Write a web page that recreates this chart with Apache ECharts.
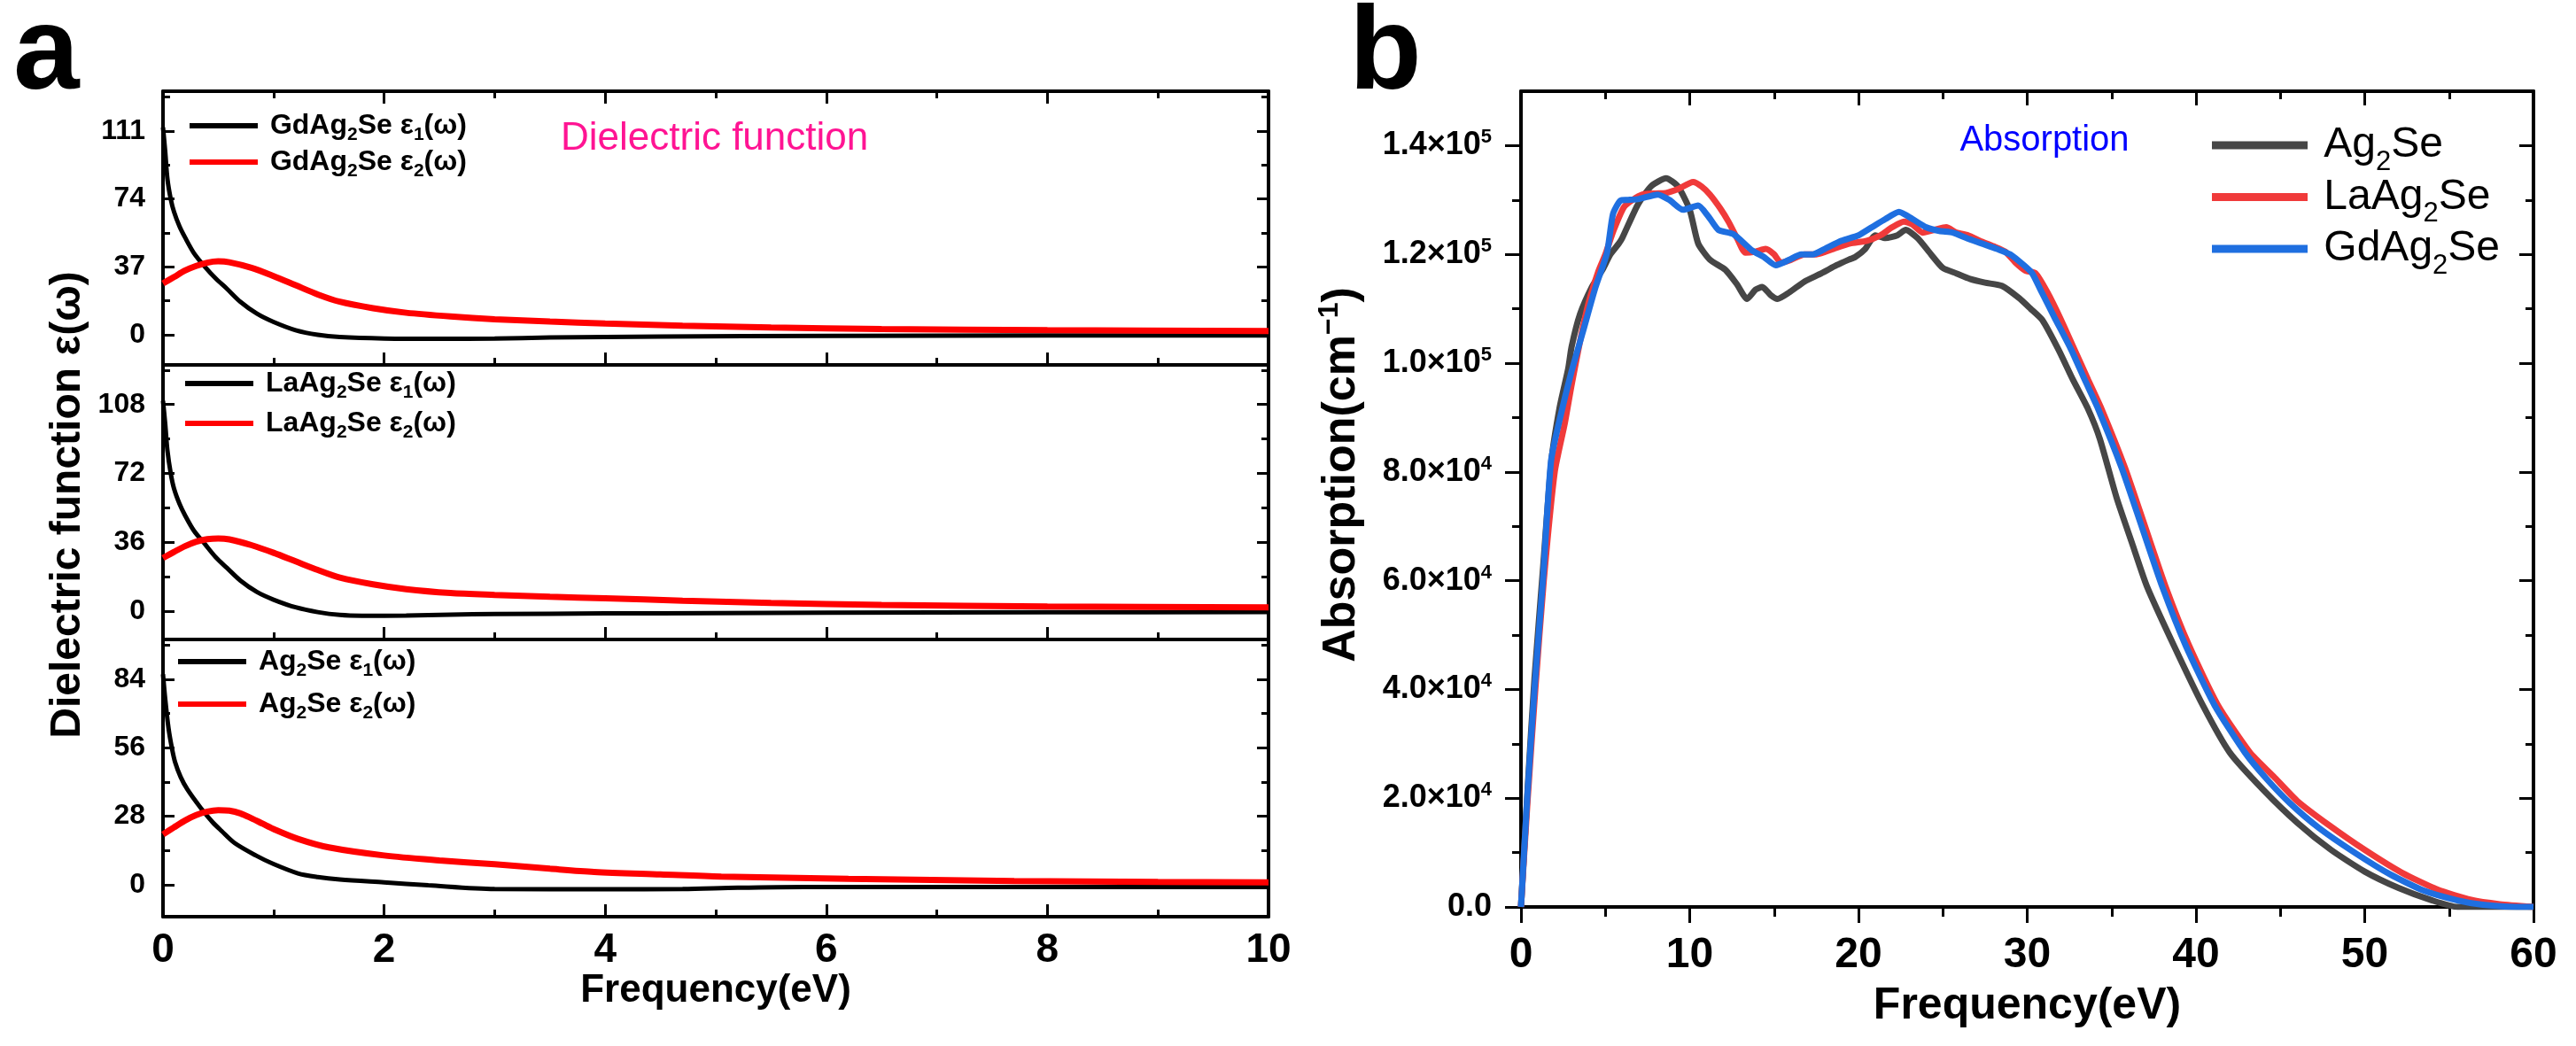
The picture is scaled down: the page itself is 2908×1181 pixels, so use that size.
<!DOCTYPE html>
<html><head><meta charset="utf-8">
<script src="https://cdn.jsdelivr.net/npm/echarts@6/dist/echarts.min.js"></script>
<style>html,body{margin:0;padding:0;background:#fff}#c{width:2908px;height:1181px}</style>
</head><body><div id="c"></div>
<script>
// ================= DATA =================
// Panel a: energy (eV) vs dielectric function
const gdEps1 = [[0,113],[0.02,100],[0.04,85],[0.07,74],[0.1,67],[0.15,59],[0.2,53],[0.28,44.5],[0.38,37],[0.48,30.5],[0.58,25],[0.7,18],[0.85,11.5],[1.0,7],[1.2,2.5],[1.4,0],[1.6,-1.2],[2.0,-2],[2.5,-2.2],[3.0,-2],[3.5,-1.5],[4.5,-1],[6,-0.6],[8,-0.4],[10,-0.3]];
const gdEps2 = [[0,28],[0.1,31.5],[0.2,35],[0.3,37.5],[0.4,39.3],[0.5,40],[0.6,39.5],[0.8,36.5],[1.0,32],[1.2,27],[1.4,22],[1.6,18],[1.9,14.5],[2.2,12],[2.6,10],[3.0,8.5],[3.5,7.2],[4.0,6.2],[4.7,5],[5.5,4],[6.5,3.2],[8,2.5],[10,2]];
const laEps1 = [[0,110],[0.02,98],[0.04,84],[0.07,72],[0.1,64],[0.15,56],[0.2,50],[0.28,42],[0.38,35],[0.48,28],[0.58,22.5],[0.7,16],[0.85,10],[1.0,6],[1.2,2],[1.4,-0.5],[1.6,-2],[1.8,-2.4],[2.2,-2.3],[2.6,-1.8],[3.0,-1.5],[4.0,-1.2],[5,-1],[6,-0.8],[8,-0.6],[10,-0.5]];
const laEps2 = [[0,27.8],[0.1,31],[0.2,34],[0.3,36.3],[0.4,37.6],[0.5,38],[0.6,37.5],[0.8,34.5],[1.0,30.5],[1.2,26],[1.4,21.5],[1.6,17.5],[1.9,14],[2.2,11.5],[2.6,9.5],[3.0,8.5],[3.5,7.5],[4.0,6.7],[4.7,5.5],[5.5,4.3],[6.5,3.3],[8,2.5],[10,2]];
const agEps1 = [[0,86],[0.02,76],[0.05,64],[0.08,56],[0.11,50],[0.16,44],[0.22,39],[0.34,31.5],[0.45,25.5],[0.53,22],[0.65,17],[0.84,12],[1.0,8.5],[1.22,4.7],[1.4,3.2],[1.6,2.2],[2.0,1],[2.4,-0.2],[3.0,-1.7],[4.0,-1.8],[4.7,-1.7],[5.2,-1.2],[5.8,-0.9],[7,-0.9],[8.5,-0.9],[10,-0.9]];
const agEps2 = [[0,20.6],[0.1,23.5],[0.2,26.3],[0.3,28.5],[0.4,29.9],[0.5,30.5],[0.6,30.3],[0.7,29.2],[0.8,27.2],[0.9,25],[1.0,22.8],[1.22,18.8],[1.5,15.3],[2.0,12],[2.5,10],[3.0,8.4],[3.5,6.6],[3.9,5.3],[4.5,4.3],[5.05,3.4],[6.2,2.5],[7.7,1.6],[9,1.2],[10,1]];
const gdTicks = [0,37,74,111];
const laTicks = [0,36,72,108];
const agTicks = [0,28,56,84];
const gdMinor = [18.5,55.5,92.5,129.5];
const laMinor = [18,54,90,126];
const agMinor = [14,42,70,98];

// Panel b: absorption (cm^-1) vs energy (eV)
const absAg2Se = [[0,0],[0.4,22000],[0.8,42000],[1.3,62000],[1.8,82000],[2.3,92000],[2.8,99000],[3.0,103000],[3.5,109000],[4.2,114000],[4.8,117000],[5.3,120000],[5.8,122000],[6.0,123000],[6.9,129000],[7.7,132500],[8.6,134000],[9.3,132500],[10.0,128200],[10.5,122000],[11.2,119000],[12.1,117200],[12.8,114500],[13.4,111800],[13.9,113500],[14.3,114000],[14.8,112500],[15.2,111800],[15.9,113000],[16.8,115000],[17.8,116500],[18.7,118000],[19.4,119000],[19.8,119500],[20.4,121000],[21.0,123500],[21.6,123000],[22.3,123500],[22.8,124500],[23.5,123000],[24.3,120000],[25.0,117500],[25.8,116500],[26.6,115500],[27.5,114800],[28.5,114200],[29.5,112000],[30.2,110000],[30.9,107900],[31.85,102500],[32.7,97000],[33.6,91600],[34.3,86100],[35.3,75200],[36.2,67000],[37.1,58900],[38.7,48000],[40.4,37100],[42.0,28400],[44.0,21500],[46.0,15500],[48.0,10500],[50.0,6500],[52.0,3500],[54.0,1200],[55.5,0],[60,0]];
const absLaAg2Se = [[0,0],[0.4,20000],[0.85,40000],[1.35,60000],[2.0,80000],[2.6,89000],[3.0,96000],[3.5,104000],[4.0,111000],[4.6,117000],[5.0,120000],[5.5,124500],[6.1,128700],[6.6,130000],[7.2,131000],[8.0,131200],[8.6,131300],[9.3,132000],[10.2,133300],[10.7,132500],[11.2,131000],[11.8,128500],[12.3,126000],[12.8,123000],[13.3,120300],[13.9,120500],[14.5,121000],[15.0,120000],[15.4,118500],[16.0,119000],[16.8,120000],[17.5,120000],[18.5,121000],[19.5,122000],[20.5,122500],[21.3,123500],[22.0,125000],[22.7,126000],[23.2,125500],[23.8,124000],[24.5,124500],[25.2,125000],[25.8,124000],[26.5,123500],[27.2,122500],[28.0,121500],[28.7,120500],[29.3,118500],[29.9,117000],[30.5,116500],[31.2,113000],[32.0,108000],[32.8,102500],[33.6,97000],[34.4,91600],[35.8,80700],[37.0,69800],[38.2,58900],[39.6,48000],[41.3,37100],[43.2,28400],[44.6,24000],[46.0,19500],[47.9,15000],[50.0,10500],[52.2,6300],[54.3,3200],[56.3,1300],[58.0,500],[60,0]];
const absGdAg2Se = [[0,0],[0.37,20000],[0.8,40000],[1.3,60000],[1.78,82000],[2.3,89700],[3.0,98500],[3.7,106100],[4.4,113800],[5.1,120300],[5.45,127400],[5.9,129900],[6.3,130000],[7.0,130200],[8.1,131000],[8.8,130000],[9.6,128200],[10.5,129000],[11.1,127000],[11.7,124500],[12.6,123700],[13.7,120700],[14.4,119500],[15.1,118000],[15.9,119000],[16.6,120000],[17.3,120000],[18.0,121000],[19.0,122500],[20.0,123500],[20.8,125000],[21.6,126500],[22.4,127800],[23.2,126500],[24.0,125000],[24.8,124300],[25.6,124000],[26.4,123000],[27.3,122000],[28.2,121000],[29.0,120000],[29.8,118000],[30.3,116500],[30.8,113400],[31.6,108500],[32.6,102500],[33.4,97000],[34.2,91600],[35.6,80700],[36.8,69800],[38.0,58900],[39.4,48000],[41.1,37100],[42.9,28400],[44.2,23500],[45.6,19000],[47.3,14500],[49.4,10000],[51.5,6000],[53.5,3000],[55.5,1200],[57.0,400],[59.0,0],[60,0]];
const absTicks = [0,20000,40000,60000,80000,100000,120000,140000];
const absMinor = [10000,30000,50000,70000,90000,110000,130000];
const absTickMant = ['0.0','2.0','4.0','6.0','8.0','1.0','1.2','1.4'];
const absTickExp = ['','4','4','4','4','5','5','5'];

// ================= CHART =================
const FONT = '"Liberation Sans", Arial, Helvetica, sans-serif';
const BLACK = '#000';
const xAxes = [], yAxes = [], series = [], legends = [];
const addX = o => (xAxes.push(o), xAxes.length - 1);
const addY = o => (yAxes.push(o), yAxes.length - 1);

const grids = [
  {left:184, top:103, width:1248, height:309},
  {left:184, top:412, width:1248, height:310},
  {left:184, top:722, width:1248, height:313},
  {left:1717, top:103, width:1143, height:921}
].map(g => Object.assign({containLabel:false, outerBoundsMode:'none'}, g));

const lineSt = w => ({color:BLACK, width:w});
const richName = name => (' ' + name).split(/(\d)/).filter(s => s.length)
  .map(s => /^\d$/.test(s) ? '{s|' + s + '}' : '{a|' + s + '}').join('');

const aPanels = [
  {e1:gdEps1, e2:gdEps2, n1:'GdAg2Se ε1(ω)', n2:'GdAg2Se ε2(ω)', ticks:gdTicks, minor:gdMinor, range:[-16.4,132.7], lgLeft:214, lgTop:126, lgGap:4},
  {e1:laEps1, e2:laEps2, n1:'LaAg2Se ε1(ω)', n2:'LaAg2Se ε2(ω)', ticks:laTicks, minor:laMinor, range:[-14.8,128.7], lgLeft:209, lgTop:417, lgGap:8},
  {e1:agEps1, e2:agEps2, n1:'Ag2Se ε1(ω)', n2:'Ag2Se ε2(ω)', ticks:agTicks, minor:agMinor, range:[-13,100.2], lgLeft:201, lgTop:731, lgGap:11}
];

aPanels.forEach((p, i) => {
  const isLast = i === 2;
  const xi = addX({
    type:'value', gridIndex:i, position:'bottom', min:0, max:10, interval:2,
    axisLine:{show:true, onZero:false, lineStyle:lineSt(4)},
    axisTick:{show:true, inside:true, length:14, lineStyle:lineSt(3)},
    minorTick:{show:true, splitNumber:2, length:8, lineStyle:lineSt(3)},
    axisLabel:{show:isLast, margin:15, fontSize:46, lineHeight:46, fontWeight:'bold', fontFamily:FONT, color:BLACK},
    splitLine:{show:false}, minorSplitLine:{show:false},
    name: isLast ? 'Frequency(eV)' : '', nameLocation:'middle', nameGap:59,
    nameTextStyle:{fontSize:44, lineHeight:44, fontWeight:'bold', fontFamily:FONT, color:BLACK}
  });
  if (i === 0) {
    addX({
      type:'value', gridIndex:i, position:'top', min:0, max:10, interval:2,
      axisLine:{show:true, onZero:false, lineStyle:lineSt(4)},
      axisTick:{show:true, inside:true, length:14, lineStyle:lineSt(3)},
      minorTick:{show:true, splitNumber:2, length:8, lineStyle:lineSt(3)},
      axisLabel:{show:false}, splitLine:{show:false}
    });
  }
  const yBase = {type:'value', gridIndex:i, min:p.range[0], max:p.range[1], splitLine:{show:false}};
  const yi = addY(Object.assign({}, yBase, {
    position:'left',
    axisLine:{show:true, onZero:false, lineStyle:lineSt(4)},
    axisTick:{show:true, inside:true, length:13, customValues:p.ticks, lineStyle:lineSt(3)},
    axisLabel:{show:true, customValues:p.ticks, margin:20, fontSize:32, lineHeight:32, fontWeight:'bold', fontFamily:FONT, color:BLACK}
  }));
  addY(Object.assign({}, yBase, {
    position:'left', axisLine:{show:false, onZero:false},
    axisTick:{show:true, inside:true, length:8, customValues:p.minor, lineStyle:lineSt(3)},
    axisLabel:{show:false}
  }));
  addY(Object.assign({}, yBase, {
    position:'right', axisLine:{show:true, onZero:false, lineStyle:lineSt(4)},
    axisTick:{show:true, inside:true, length:13, customValues:p.ticks, lineStyle:lineSt(3)},
    axisLabel:{show:false}
  }));
  addY(Object.assign({}, yBase, {
    position:'right', axisLine:{show:false, onZero:false},
    axisTick:{show:true, inside:true, length:8, customValues:p.minor, lineStyle:lineSt(3)},
    axisLabel:{show:false}
  }));
  series.push({type:'line', name:p.n1, xAxisIndex:xi, yAxisIndex:yi, data:p.e1, symbol:'none', showSymbol:false,
    smooth:0.3, lineStyle:{color:'#000000', width:5}, itemStyle:{color:'#000000'}, z:3});
  series.push({type:'line', name:p.n2, xAxisIndex:xi, yAxisIndex:yi, data:p.e2, symbol:'none', showSymbol:false,
    smooth:0.3, lineStyle:{color:'#ff0000', width:7}, itemStyle:{color:'#ff0000'}, z:4});
  legends.push({
    data:[p.n1, p.n2], left:p.lgLeft, top:p.lgTop, orient:'vertical', padding:0,
    itemGap:p.lgGap, itemWidth:77, itemHeight:6, icon:'rect', selectedMode:false,
    formatter:richName,
    textStyle:{rich:{
      a:{fontSize:32, fontWeight:'bold', fontFamily:FONT, color:BLACK, lineHeight:42},
      s:{fontSize:21, fontWeight:'bold', fontFamily:FONT, color:BLACK, lineHeight:20, verticalAlign:'bottom'}
    }}
  });
});

// Panel b axes
const bx = addX({
  type:'value', gridIndex:3, position:'bottom', min:0, max:60, interval:10,
  axisLine:{show:true, onZero:false, lineStyle:lineSt(4)},
  axisTick:{show:true, inside:false, length:18, lineStyle:lineSt(3)},
  minorTick:{show:true, splitNumber:2, length:11, lineStyle:lineSt(3)},
  axisLabel:{show:true, margin:31, fontSize:48, lineHeight:48, fontWeight:'bold', fontFamily:FONT, color:BLACK},
  splitLine:{show:false}, minorSplitLine:{show:false},
  name:'Frequency(eV)', nameLocation:'middle', nameGap:87,
  nameTextStyle:{fontSize:50, lineHeight:50, fontWeight:'bold', fontFamily:FONT, color:BLACK}
});
addX({
  type:'value', gridIndex:3, position:'top', min:0, max:60, interval:10,
  axisLine:{show:true, onZero:false, lineStyle:lineSt(4)},
  axisTick:{show:true, inside:true, length:16, lineStyle:lineSt(3)},
  minorTick:{show:true, splitNumber:2, length:9, lineStyle:lineSt(3)},
  axisLabel:{show:false}, splitLine:{show:false}
});
const yB = {type:'value', gridIndex:3, min:0, max:150000, splitLine:{show:false}};
const by = addY(Object.assign({}, yB, {
  position:'left', axisLine:{show:true, onZero:false, lineStyle:lineSt(4)},
  axisTick:{show:true, inside:false, length:18, customValues:absTicks, lineStyle:lineSt(3)},
  axisLabel:{show:true, customValues:absTicks, margin:33, color:BLACK,
    formatter: v => {
      const k = absTicks.indexOf(v);
      if (k < 0) return '';
      return absTickExp[k] ? '{m|' + absTickMant[k] + '×10}{e|' + absTickExp[k] + '}' : '{m|' + absTickMant[k] + '}';
    },
    rich:{
      m:{fontSize:36, fontWeight:'bold', fontFamily:FONT, color:BLACK, lineHeight:40},
      e:{fontSize:22, fontWeight:'bold', fontFamily:FONT, color:BLACK, lineHeight:22, verticalAlign:'top'}
    }}
}));
addY(Object.assign({}, yB, {
  position:'left', axisLine:{show:false, onZero:false},
  axisTick:{show:true, inside:false, length:10, customValues:absMinor, lineStyle:lineSt(3)},
  axisLabel:{show:false}
}));
addY(Object.assign({}, yB, {
  position:'right', axisLine:{show:true, onZero:false, lineStyle:lineSt(4)},
  axisTick:{show:true, inside:true, length:16, customValues:absTicks, lineStyle:lineSt(3)},
  axisLabel:{show:false}
}));
addY(Object.assign({}, yB, {
  position:'right', axisLine:{show:false, onZero:false},
  axisTick:{show:true, inside:true, length:9, customValues:absMinor, lineStyle:lineSt(3)},
  axisLabel:{show:false}
}));

const bSeries = [
  {name:'Ag2Se', data:absAg2Se, color:'#464646'},
  {name:'LaAg2Se', data:absLaAg2Se, color:'#f03a3a'},
  {name:'GdAg2Se', data:absGdAg2Se, color:'#1f6fe0'}
];
bSeries.forEach((s, k) => series.push({
  type:'line', name:s.name, xAxisIndex:bx, yAxisIndex:by, data:s.data, symbol:'none', showSymbol:false,
  smooth:0.2, lineStyle:{color:s.color, width:7}, itemStyle:{color:s.color}, z:3 + k
}));
legends.push({
  data:bSeries.map(s => s.name), left:2497, top:140, orient:'vertical', padding:0,
  itemGap:0, itemWidth:108, itemHeight:9, icon:'rect', selectedMode:false,
  formatter:richName,
  textStyle:{rich:{
    a:{fontSize:48, fontFamily:FONT, color:BLACK, lineHeight:69},
    s:{fontSize:31, fontFamily:FONT, color:BLACK, lineHeight:34, verticalAlign:'bottom'}
  }}
});

const txt = (x, y, text, st, rot) => ({
  type:'text', x, y, rotation: rot || 0, silent:true,
  style:Object.assign({text, fill:BLACK, fontFamily:FONT, align:'left', verticalAlign:'middle', textAlign:'left', textVerticalAlign:'middle'}, st)
});

const graphics = [
  txt(15, 63, 'a', {fontSize:134, fontWeight:'bold'}),
  txt(1523, 63, 'b', {fontSize:134, fontWeight:'bold'}),
  txt(633, 157, 'Dielectric function', {fontSize:44, fill:'#ff1493'}),
  txt(2308, 159, 'Absorption', {fontSize:40, fill:'#0000ff', align:'center', textAlign:'center'}),
  txt(77, 570, 'Dielectric function ε(ω)', {fontSize:48, fontWeight:'bold', align:'center', textAlign:'center'}, Math.PI / 2),
  txt(1515, 536, '{a|Absorption(cm}{p|−1}{a|)}', {align:'center', textAlign:'center', rich:{
    a:{fontSize:52, fontWeight:'bold', fontFamily:FONT, fill:BLACK, color:BLACK, lineHeight:60},
    p:{fontSize:32, fontWeight:'bold', fontFamily:FONT, fill:BLACK, color:BLACK, lineHeight:32, verticalAlign:'top'}
  }}, Math.PI / 2)
];

const chart = echarts.init(document.getElementById('c'), null, {renderer:'canvas'});
chart.setOption({
  animation:false,
  backgroundColor:'#ffffff',
  grid:grids,
  xAxis:xAxes,
  yAxis:yAxes,
  legend:legends,
  series:series,
  graphic:graphics
});
</script>
</body></html>
